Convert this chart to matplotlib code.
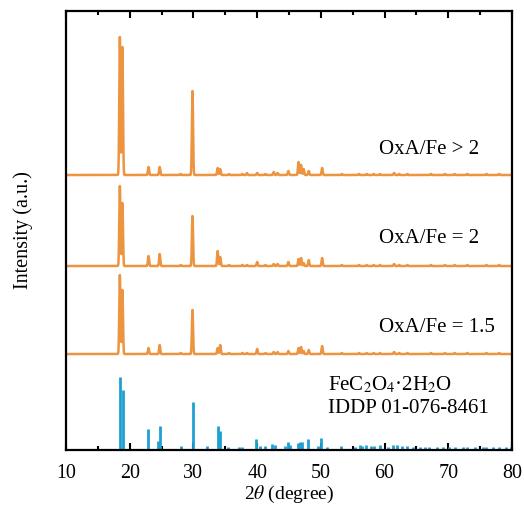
import numpy as np
import matplotlib
matplotlib.use("Agg")
import matplotlib.pyplot as plt

plt.rcParams['font.family'] = ['Liberation Serif', 'DejaVu Serif']
plt.rcParams['mathtext.fontset'] = 'stix'

# ---- data ----
peak_pos = [18.45, 18.85, 22.95, 24.7, 28.0, 29.85, 33.8, 34.2, 35.6, 37.7, 38.4,
            40.0, 41.3, 42.6, 43.2, 44.9, 46.5, 46.9, 47.3, 48.1, 50.2, 53.3, 56.0,
            57.2, 58.3, 59.3, 61.5, 62.3, 63.6, 67.3, 69.5, 71.0, 73.0, 76.0, 78.0]
h_gt2 = [138, 128, 8, 8, 1, 84, 7, 6, 1, 1, 2, 2, 1, 3, 2, 4, 13, 10, 6, 4, 7,
         1, 1, 1, 1, 1, 2, 1, 1, 1, 1, 1, 1, 1, 1]
h_eq2 = [80, 63, 10, 12, 1, 50, 15, 9, 1, 1, 1, 4, 1, 2, 2, 4, 7, 8, 3, 6, 8,
         1, 1, 1, 1, 1, 2, 1, 1, 1, 1, 1, 1, 1, 1]
h_eq15 = [79, 64, 6, 9, 1, 44, 6, 9, 1, 1, 1, 5, 1, 2, 2, 3, 6, 7, 3, 4, 8,
          1, 1, 1, 1, 1, 2, 1, 1, 1, 1, 1, 1, 1, 1]
offsets = [275, 184, 96]
labels = ['OxA/Fe > 2', 'OxA/Fe = 2', 'OxA/Fe = 1.5']

ref_pos = [18.4, 18.9, 22.9, 24.4, 24.7, 28.0, 29.9, 32.2, 33.8, 34.1, 35.5, 37.1,
           37.7, 39.9, 40.5, 41.2, 42.4, 42.8, 44.3, 44.8, 45.1, 46.4, 46.8, 47.1,
           48.0, 49.5, 50.1, 51.0, 53.2, 55.3, 56.1, 56.5, 57.1, 57.8, 58.3, 59.3,
           60.5, 61.4, 62.0, 62.7, 63.5, 64.5, 65.5, 66.3, 67.0, 68.2, 69.2, 70.1,
           71.0, 72.3, 73.0, 74.2, 75.4, 76.0, 77.0, 78.0, 79.0, 79.8]
ref_h = [73, 60, 21, 9, 24, 4, 48, 4, 24, 19, 3, 3, 3, 11, 4, 4, 6, 5, 4, 8, 5,
         7, 8, 8, 11, 4, 12, 3.5, 4, 3, 5, 4, 5, 4, 4, 5, 3, 5, 5, 4, 4, 3, 3, 3,
         3, 3.5, 3, 3, 3, 3, 3, 3, 3, 3.5, 3.5, 3.5, 3, 3]

orange = '#EC9440'
blue = '#1FA0D2'

fig = plt.figure(figsize=(5.24, 5.12), dpi=100)
ax = fig.add_axes([0.126, 0.121, 0.851, 0.8575])

x = np.linspace(10, 80, 7001)
for heights, off in zip([h_gt2, h_eq2, h_eq15], offsets):
    y = np.zeros_like(x)
    for p, h in zip(peak_pos, heights):
        y += h * np.exp(-0.5 * ((x - p) / 0.09) ** 2)
    ax.plot(x, y + off, color=orange, lw=1.8)

ax.vlines(ref_pos, 0, ref_h, color=blue, lw=2.0)

fs = 15
ax.text(59.1, 301, labels[0], fontsize=fs, va='center', ha='left')
ax.text(59.1, 212, labels[1], fontsize=fs, va='center', ha='left')
ax.text(59.1, 123, labels[2], fontsize=fs, va='center', ha='left')
ax.text(51.1, 65, 'FeC$_2$O$_4$·2H$_2$O', fontsize=fs, va='center', ha='left')
ax.text(51.1, 42, 'IDDP 01-076-8461', fontsize=fs, va='center', ha='left')

ax.set_xlim(10, 80)
ax.set_ylim(0, 439)
ax.set_xticks(np.arange(10, 81, 10))
ax.set_xticks(np.arange(15, 80, 10), minor=True)
ax.set_yticks([])
ax.tick_params(axis='x', which='major', direction='in', length=5, width=1.5,
               top=True, labelsize=14.4, pad=10)
ax.tick_params(axis='x', which='minor', direction='in', length=3, width=1.5, top=True)
for s in ax.spines.values():
    s.set_linewidth(1.6)
ax.set_xlabel('2$\\theta$ (degree)', fontsize=14, labelpad=1)
ax.set_ylabel('Intensity (a.u.)', fontsize=14.5, labelpad=24)

fig.savefig('out.png', dpi=100)
